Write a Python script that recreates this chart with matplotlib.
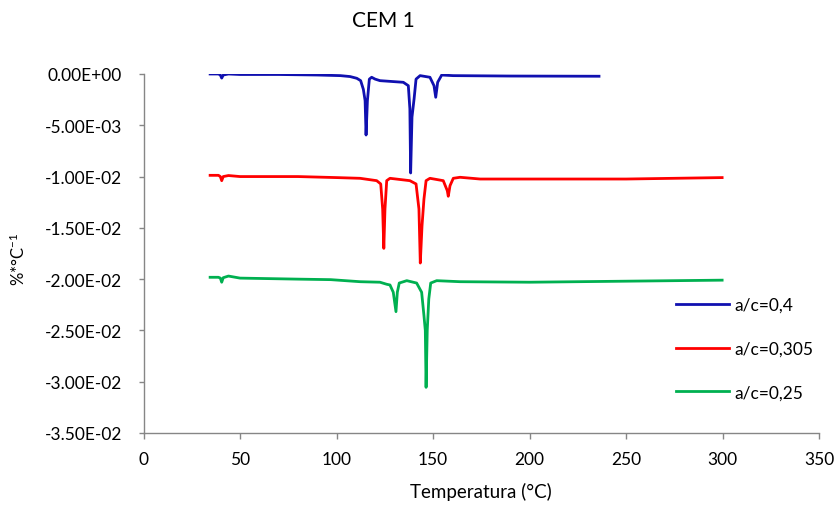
import matplotlib.pyplot as plt

# DTG curves, temperature (°C) vs mass-loss rate (%*°C^-1)
temp_04 = [34.5, 38.8, 39.8, 40.5, 41.3, 44, 50, 70, 90, 102, 107, 110.5,
           112.5, 113.9, 114.8, 115.3, 116.0, 117.0, 118.2, 120, 122.5, 134.6,
           137.2, 138.0, 138.4, 139.1, 140.2, 141.2, 143.3, 148.4, 150.5,
           151.4, 152.4, 154.5, 160.4, 190, 236]
dtg_04 = [0.0, 0.0, -0.0001, -0.0004, -0.0001, 0.0, -0.00005, -0.00005,
          -0.0001, -0.00016, -0.00025, -0.00042, -0.00065, -0.0015, -0.0026,
          -0.00595, -0.0026, -0.0005, -0.00032, -0.0005, -0.00065, -0.00081,
          -0.00114, -0.0034, -0.00965, -0.0042, -0.0024, -0.0005, -0.00016,
          -0.00032, -0.00114, -0.00227, -0.00081, -0.0001, -0.00016, -0.0002,
          -0.00022]

temp_0305 = [34.5, 38.8, 39.8, 40.5, 41.3, 44, 50, 80, 100, 112.2, 120.8,
             122.9, 123.9, 124.5, 125.1, 126.0, 127.7, 138.0, 141.2, 142.7,
             143.4, 144.3, 145.3, 146.4, 148.4, 155.3, 157.4, 157.9, 158.8,
             160.5, 164, 174.4, 250, 299.8]
dtg_0305 = [-0.00988, -0.00988, -0.0100, -0.0104, -0.0100, -0.0099, -0.0100,
            -0.0100, -0.0101, -0.01017, -0.0104, -0.01072, -0.01316, -0.0170,
            -0.01316, -0.0104, -0.01017, -0.0104, -0.01072, -0.01316, -0.01843,
            -0.01479, -0.01219, -0.0104, -0.01017, -0.0104, -0.01138, -0.01192,
            -0.01089, -0.01017, -0.01007, -0.01024, -0.01024, -0.0101]

temp_025 = [34.5, 38.8, 39.8, 40.5, 41.3, 44, 50, 80, 97, 112.2, 122.5,
            126.0, 127.7, 129.4, 130.8, 131.5, 132.5, 136.4, 141.5, 144.1,
            145.3, 146.0, 146.4, 147.0, 147.8, 148.8, 151.9, 164, 200, 250,
            299.8]
dtg_025 = [-0.01982, -0.01982, -0.0199, -0.0203, -0.01986, -0.0197, -0.0199,
           -0.02, -0.02005, -0.02025, -0.0203, -0.0205, -0.02057, -0.02128,
           -0.02317, -0.02128, -0.02038, -0.02015, -0.02038, -0.02128,
           -0.02356, -0.0250, -0.03055, -0.0250, -0.02194, -0.02038, -0.02015,
           -0.02025, -0.0203, -0.0202, -0.0201]

labels = ["a/c=0,4", "a/c=0,305", "a/c=0,25"]
colors = ["#1010B0", "#FF0000", "#00B050"]

y_ticks = [0.0, -0.005, -0.01, -0.015, -0.02, -0.025, -0.03, -0.035]
y_tick_labels = ["0.00E+00", "-5.00E-03", "-1.00E-02", "-1.50E-02",
                 "-2.00E-02", "-2.50E-02", "-3.00E-02", "-3.50E-02"]
x_ticks = [0, 50, 100, 150, 200, 250, 300, 350]

plt.rcParams["font.family"] = ["Lato", "DejaVu Sans"]
plt.rcParams["mathtext.default"] = "regular"

fig = plt.figure(figsize=(8.37, 5.06), dpi=100)
ax = fig.add_axes([0.1715, 0.1423, 0.807, 0.7095])

series = [(temp_04, dtg_04), (temp_0305, dtg_0305), (temp_025, dtg_025)]
for (t, d), label, color in zip(series, labels, colors):
    ax.plot(t, d, color=color, linewidth=2.0, label=label,
            solid_joinstyle="round")

ax.set_xlim(0, 350)
ax.set_ylim(-0.035, 0.0)
ax.set_xticks(x_ticks)
ax.set_yticks(y_ticks)
ax.set_yticklabels(y_tick_labels)

for side in ["top", "right"]:
    ax.spines[side].set_visible(False)
for side in ["left", "bottom"]:
    ax.spines[side].set_color("#868686")
    ax.spines[side].set_linewidth(1.0)

ax.tick_params(axis="y", direction="out", length=3.5, width=1.0,
               color="#868686", labelsize=12.5, pad=12)
ax.tick_params(axis="x", direction="out", length=4, width=1.0,
               color="#868686", labelsize=12.5, pad=9)

ax.set_xlabel("Temperatura (°C)", fontsize=13.5, labelpad=11)
fig.text(18 / 837, 1 - 259 / 506, "%*°C$^{-1}$", rotation=90, fontsize=12,
         ha="center", va="center")
fig.text(383 / 837, 1 - 21 / 506, "CEM 1", fontsize=15,
         ha="center", va="center")

ax.legend(loc="upper left", bbox_to_anchor=(676 / 837, 1 - 298 / 506),
          bbox_transform=fig.transFigure, frameon=False, fontsize=12.5,
          handlelength=3.05, handletextpad=0.3, labelspacing=1.6,
          borderpad=0, borderaxespad=0)

fig.savefig("out.png", dpi=100)
